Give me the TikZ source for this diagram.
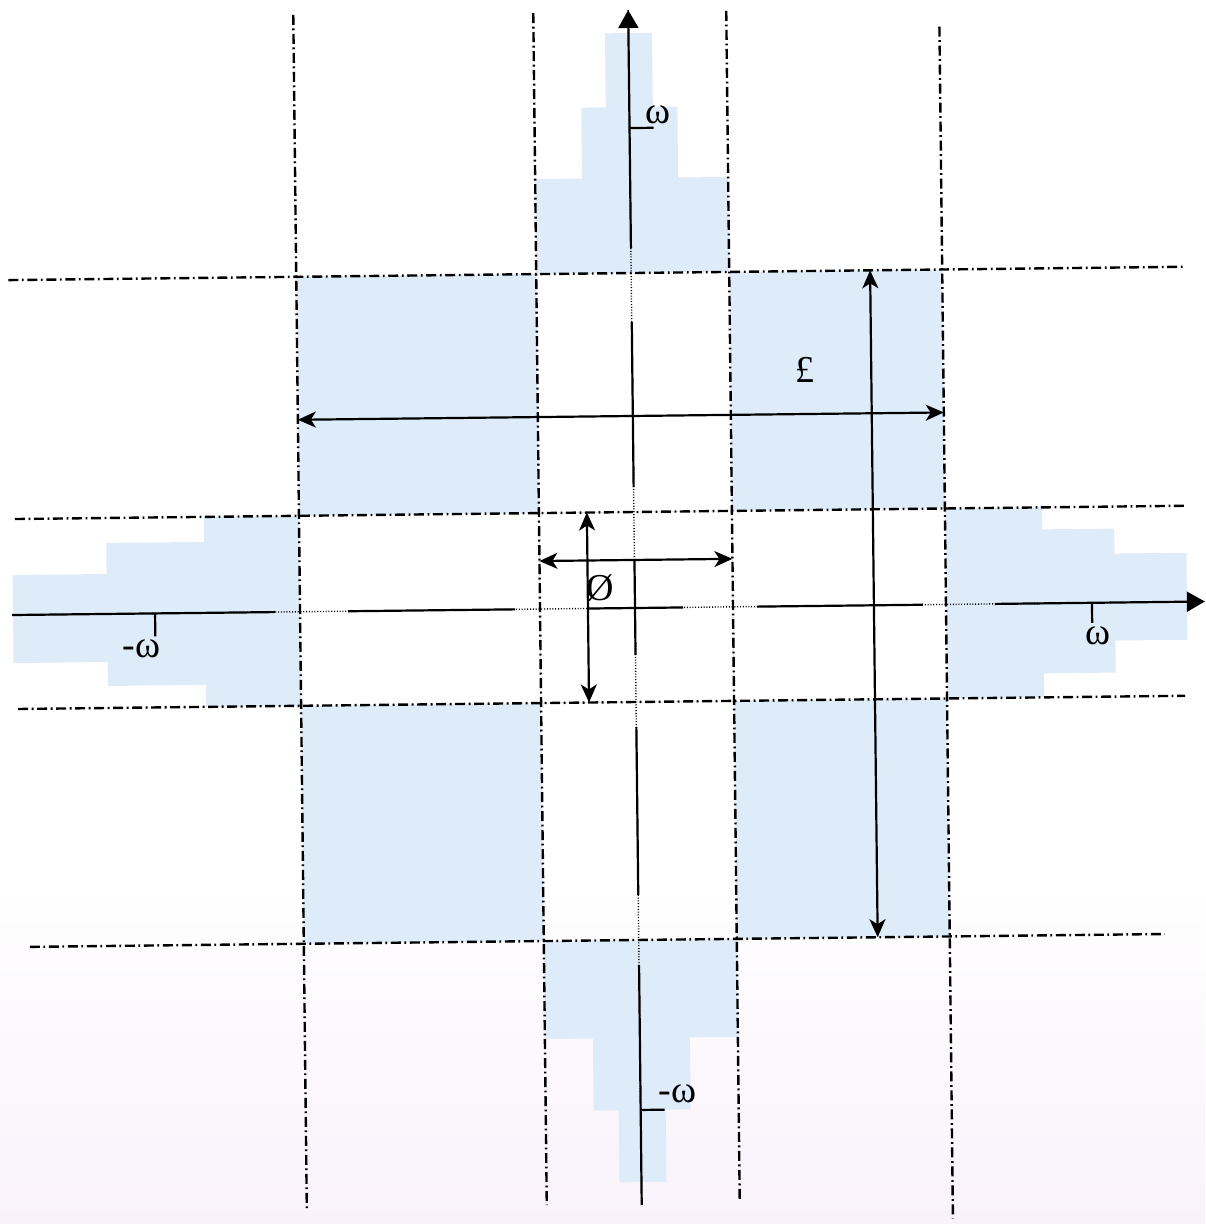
\documentclass[tikz,border=0pt]{standalone}
\usepackage{fontspec}
\newfontfamily\labfont{Liberation Serif}
\usetikzlibrary{arrows.meta}
\definecolor{qfill}{RGB}{222,236,250}
\definecolor{scanpink}{RGB}{249,242,251}
\begin{document}
\begin{tikzpicture}[x=0.5pt,y=-0.5pt,
  ddline/.style={line width=1.2pt, dash pattern=on 5pt off 1.8pt on 0.9pt off 1.8pt},
  axisline/.style={line width=1.1pt},
  dotline/.style={line width=0.7pt, dash pattern=on 0.5pt off 0.9pt},
  dimarrow/.style={line width=1.1pt, {Stealth[length=9pt,width=8pt,inset=2.5pt]}-{Stealth[length=9pt,width=8pt,inset=2.5pt]}},
  axtip/.style={-{Triangle[length=9pt,width=10pt]}},
  lbl/.style={font=\labfont\fontsize{19}{22}\selectfont, inner sep=0pt},
  faint/.style={draw=black!12, line width=0.4pt},
  band/.style={fill=qfill}
]
\useasboundingbox (0,0) rectangle (1205,1224);
\shade[top color=white, bottom color=scanpink] (0,880) rectangle (1205,1224);
\begin{scope}[rotate around={0.65:(635,608)}]
% blue bands
\fill[band] (540,273) -- (540,178) -- (587,178) -- (587,107) -- (611.5,107) -- (611.5,33) -- (658.5,33) -- (658.5,107) -- (683,107) -- (683,178) -- (733,178) -- (733,273) -- cycle;
\fill[band] (540,940) -- (540,1038) -- (588,1038) -- (588,1110) -- (613,1110) -- (613,1182) -- (660,1182) -- (660,1110) -- (685,1110) -- (685,1038) -- (733,1038) -- (733,940) -- cycle;
\fill[band] (300,512) -- (205,512) -- (205,537) -- (107,537) -- (107,568) -- (13,568) -- (13,656) -- (107,656) -- (107,680) -- (205,680) -- (205,702) -- (300,702) -- cycle;
\fill[band] (946,512) -- (1043,512) -- (1043,534) -- (1115,534) -- (1115,559) -- (1187,559) -- (1187,646) -- (1115,646) -- (1115,678) -- (1043,678) -- (1043,702) -- (946,702) -- cycle;
\fill[band] (300,273) rectangle (540,512);
\fill[band] (733,273) rectangle (946,512);
\fill[band] (300,702) rectangle (540,940);
\fill[band] (733,702) rectangle (946,940);
\draw[faint] (540,512) rectangle (733,702);
% dash-dot grid lines
\draw[ddline] (300,11) -- (300,1206);
\draw[ddline] (540,12) -- (540,1204);
\draw[ddline] (733,12) -- (733,1202);
\draw[ddline] (946,30) -- (946,1222);
\draw[ddline] (12,273) -- (1189,273);
\draw[ddline] (16,512) -- (1186,512);
\draw[ddline] (17,702) -- (1184,702);
\draw[ddline] (26,940) -- (1161,940);
% axes
\coordinate (xl) at (12,608);
\coordinate (xr) at (1205,608);
\coordinate (yt) at (635,10);
\coordinate (yb) at (635,1205);
\draw[dotline] (xl) -- (xr);
\draw[dotline] (yt) -- (yb);
\draw[axisline] (xl) -- (275,608);
\draw[axisline] (348,608) -- (515,608);
\draw[axisline] (588,608) -- (683,608);
\draw[axisline] (757,608) -- (923,608);
\draw[axisline,axtip] (995,608) -- (xr);
\draw[axisline,axtip] (635,248) -- (yt);
\draw[axisline] (635,322) -- (635,487);
\draw[axisline] (635,560) -- (635,655);
\draw[axisline] (635,727) -- (635,895);
\draw[axisline] (635,965) -- (yb);
% ticks
\draw[axisline] (635,128) -- (659,128);
\draw[axisline] (635,1110) -- (659,1110);
\draw[axisline] (155,608) -- (155,631);
\draw[axisline] (1092,608) -- (1092,628);
% dimension arrows
\coordinate (ha) at (300,416);
\coordinate (hb) at (946,416);
\coordinate (va) at (874,273);
\coordinate (vb) at (874,940);
\coordinate (sha) at (540,560);
\coordinate (shb) at (733,560);
\coordinate (sva) at (588,512);
\coordinate (svb) at (588,702);
\draw[dimarrow] (ha) -- (hb);
\draw[dimarrow] (va) -- (vb);
\draw[dimarrow] (sha) -- (shb);
\draw[dimarrow] (sva) -- (svb);
% labels
\node[lbl] (wtop) at (664,115) {ω};
\node[lbl] (wbot) at (672,1094) {-ω};
\node[lbl] (wleft) at (141,643) {-ω};
\node[lbl] (wright) at (1098,641) {ω};
\node[lbl] (pound) at (808,372) {£};
\node[lbl] (empty) at (600,588) {Ø};
\end{scope}
\end{tikzpicture}
\end{document}
